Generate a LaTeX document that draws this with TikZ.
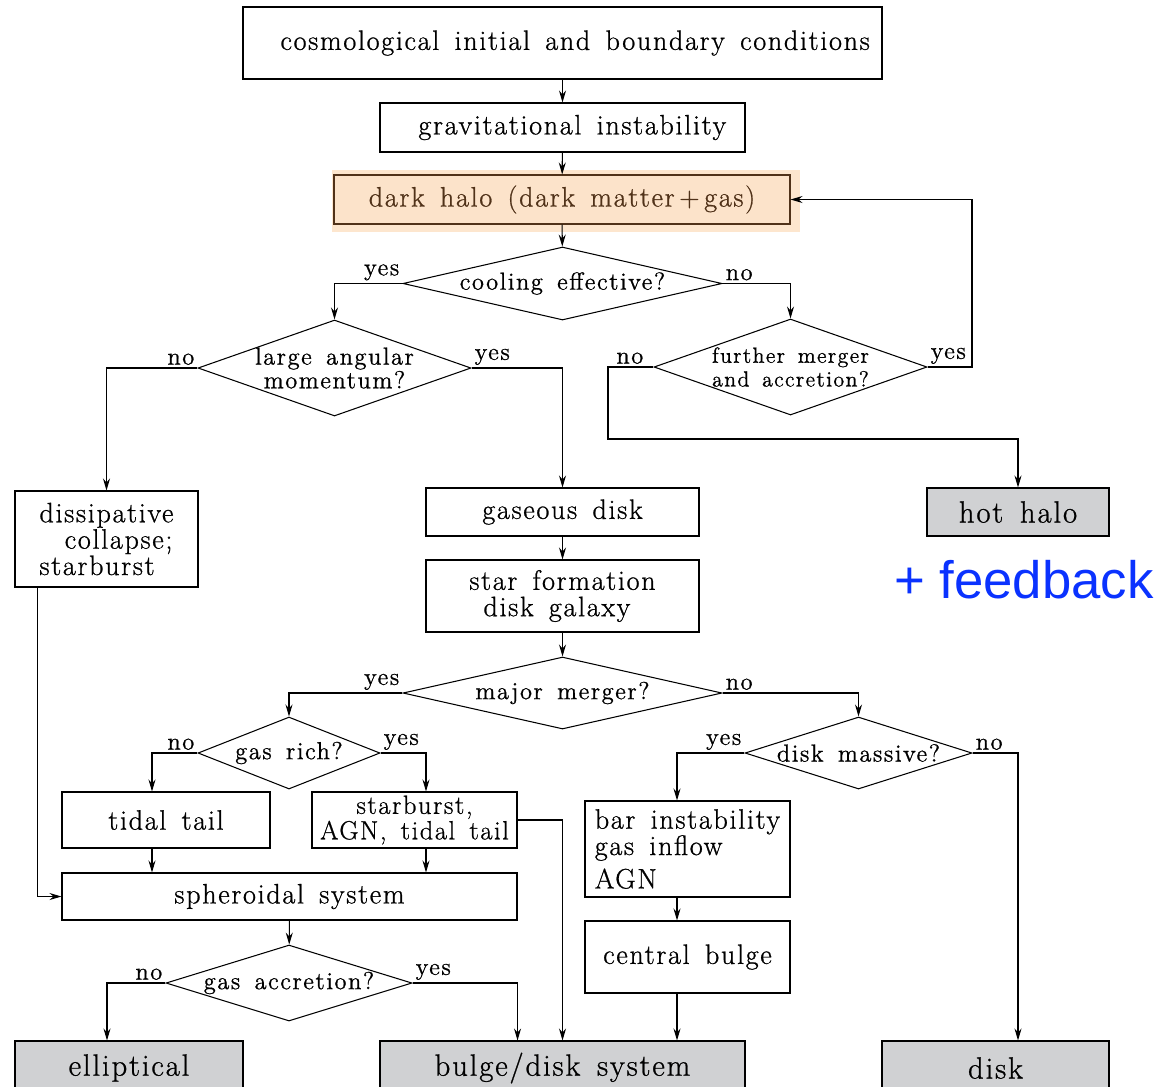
\documentclass[tikz,border=0pt]{standalone}
\usepackage{fontspec}
\setmainfont{Latin Modern Roman}[LetterSpace=6,WordSpace=1.5,FakeBold=0.8]
\newfontfamily\fbfont{Liberation Sans}
\usetikzlibrary{shapes.geometric, arrows.meta, calc}
\definecolor{HaloFill}{RGB}{252,227,202}
\definecolor{HaloGlow}{RGB}{253,230,206}
\definecolor{HaloEdge}{RGB}{80,50,25}
\definecolor{EndGray}{RGB}{208,209,211}
\definecolor{FbBlue}{RGB}{10,50,255}

\begin{document}
\begin{tikzpicture}[x=0.02cm, y=-0.02cm, line width=0.6pt,
    font=\fontsize{16}{15}\selectfont,
    arr/.style={-{Stealth[length=2.4mm, width=1.4mm, inset=0.8mm]}},
    proc/.style 2 args={draw, rectangle, inner sep=0pt, align=center,
      minimum width=#1*0.02cm, minimum height=#2*0.02cm},
    final/.style 2 args={proc={#1}{#2}, fill=EndGray, font=\fontsize{17.5}{15}\selectfont},
    dtext/.style={font=\fontsize{14}{13.5}\selectfont, align=center, inner sep=0pt},
    decide/.style n args={3}{draw, diamond, inner sep=0pt,
      minimum width=#1*0.02cm, minimum height=#2*0.02cm,
      label={[dtext]center:#3}},
    yn/.style={font=\fontsize{14}{16}\selectfont, inner sep=1.5pt, anchor=#1}]
  \useasboundingbox (0,0) rectangle (1158,1086);

  % glow behind the halo box
  \fill[HaloGlow] (332,170) rectangle (800,232);

  % upper part
  \node[proc={639}{72}] (cosmo) at (562.5,43) {\hspace{0.9em}cosmological initial and boundary conditions};
  \node[proc={365}{49}] (grav) at (562.5,127.5) {\hspace{0.7em}gravitational instability};
  \node[proc={456}{49}, fill=HaloFill, draw=HaloEdge, text=HaloEdge] (halo) at (562,199.5) {dark halo (dark matter\,+\,gas)};
  \node[decide={319}{73}{cooling effective?}] (cool) at (562.5,283.5) {};
  \node[decide={273}{96}{large angular\\momentum?}] (ang) at (334.5,368) {};
  \node[decide={273}{96}{\fontsize{12.5}{12}\selectfont further merger\\\fontsize{12.5}{12}\selectfont and accretion?}] (merge) at (790.5,367) {};
  \node[proc={183}{96}, align=left] (diss) at (106.5,539) {dissipative\\\hspace{0.9em}collapse;\\starburst};
  \node[proc={273}{48}] (gdisk) at (562.5,512) {gaseous disk};
  \node[final={182}{48}] (hot) at (1018,512) {hot halo};
  \node[text=FbBlue, font=\fbfont\fontsize{30}{34}\selectfont] (fb) at (1024,580) {+ feedback};
  \node[proc={273}{72}, align=left] (sfd) at (562.5,596) {star formation\\\hspace{0.5em}disk galaxy};

  % lower part
  \node[decide={319}{72}{major merger?}] (major) at (562.5,693) {};
  \node[decide={182}{72}{gas rich?}] (rich) at (289,753) {};
  \node[decide={227}{72}{disk massive?}] (massive) at (858.5,753) {};
  \node[proc={208}{56}] (tidal) at (166,820) {tidal tail};
  \node[proc={205}{56}, font=\fontsize{15}{14.5}\selectfont] (sbagn) at (414.5,820) {starburst,\\AGN, tidal tail};
  \node[proc={205}{96}, align=left] (bar) at (687.5,849) {bar instability\\gas inflow\\[4pt]AGN};
  \node[proc={455}{47}] (spher) at (289.5,896.5) {spheroidal system};
  \node[proc={205}{72}] (cbulge) at (687.5,957) {central bulge};
  \node[decide={246}{76}{gas accretion?}] (accr) at (289,983) {};
  \node[final={228}{54}] (ell) at (129,1068) {elliptical};
  \node[final={365}{54}] (bd) at (562.5,1068) {bulge/disk system};
  \node[final={227}{54}] (dsk) at (995.5,1068) {disk};

  % bends and off-centre ends
  \coordinate (loop) at (972,199.5);
  \coordinate (nobend) at (608,439);
  \coordinate (tx) at ($(tidal.south)+(-14,0)$);
  \coordinate (sx) at ($(sbagn.south)+(11.5,0)$);
  \coordinate (dx) at ($(diss.south west)+(23,0)$);
  \coordinate (ex) at ($(ell.north)+(-22,0)$);
  \coordinate (bx) at ($(bar.south)+(-10.5,0)$);
  \coordinate (kx) at ($(dsk.north)+(22.5,0)$);

  \draw[arr] (cosmo) -- (grav);
  \draw[arr] (grav) -- (halo);
  \draw[arr] (halo) -- (cool);
  \draw[arr] (cool.west) node[yn=south east] (coolyes) {yes} -| (ang.north);
  \draw[arr] (cool.east) node[yn=south west] (coolno) {no} -| (merge.north);
  \draw[arr] (ang.west) node[yn=south east] (angno) {no} -| (diss.north);
  \draw[arr] (ang.east) node[yn=south west] (angyes) {yes} -| (gdisk.north);
  \draw[arr] (merge.east) node[yn=south west] (mergeyes) {yes} -| (loop) -- (halo.east);
  \draw[arr] (merge.west) node[yn=south east, xshift=-4pt] (mergeno) {no} -| (nobend) -| (hot.north);
  \draw[arr] (gdisk) -- (sfd);
  \draw[arr] (sfd) -- (major);
  \draw[arr] (major.west) node[yn=south east] (majoryes) {yes} -| (rich.north);
  \draw[arr] (major.east) node[yn=south west] (majorno) {no} -| (massive.north);
  \draw[arr] (rich.west) node[yn=south east] (richno) {no} -| (tx |- tidal.north);
  \draw[arr] (rich.east) node[yn=south west] (richyes) {yes} -| (sx |- sbagn.north);
  \draw[arr] (sbagn.east) -| (bd.north);
  \draw[arr] (tx) -- (tx |- spher.north);
  \draw[arr] (sx) -- (sx |- spher.north);
  \draw[arr] (dx) |- (spher.west);
  \draw[arr] (spher) -- (accr);
  \draw[arr] (accr.west) node[yn=south east] (accrno) {no} -| (ex);
  \draw[arr] (accr.east) node[yn=south west] (accryes) {yes} -| (spher.east |- bd.north);
  \draw[arr] (massive.west) node[yn=south east] (massyes) {yes} -| (bx |- bar.north);
  \draw[arr] (massive.east) node[yn=south west] (massno) {no} -| (kx);
  \draw[arr] (bx) -- (bx |- cbulge.north);
  \draw[arr] (bx |- cbulge.south) -- (bx |- bd.north);
\end{tikzpicture}
\end{document}
